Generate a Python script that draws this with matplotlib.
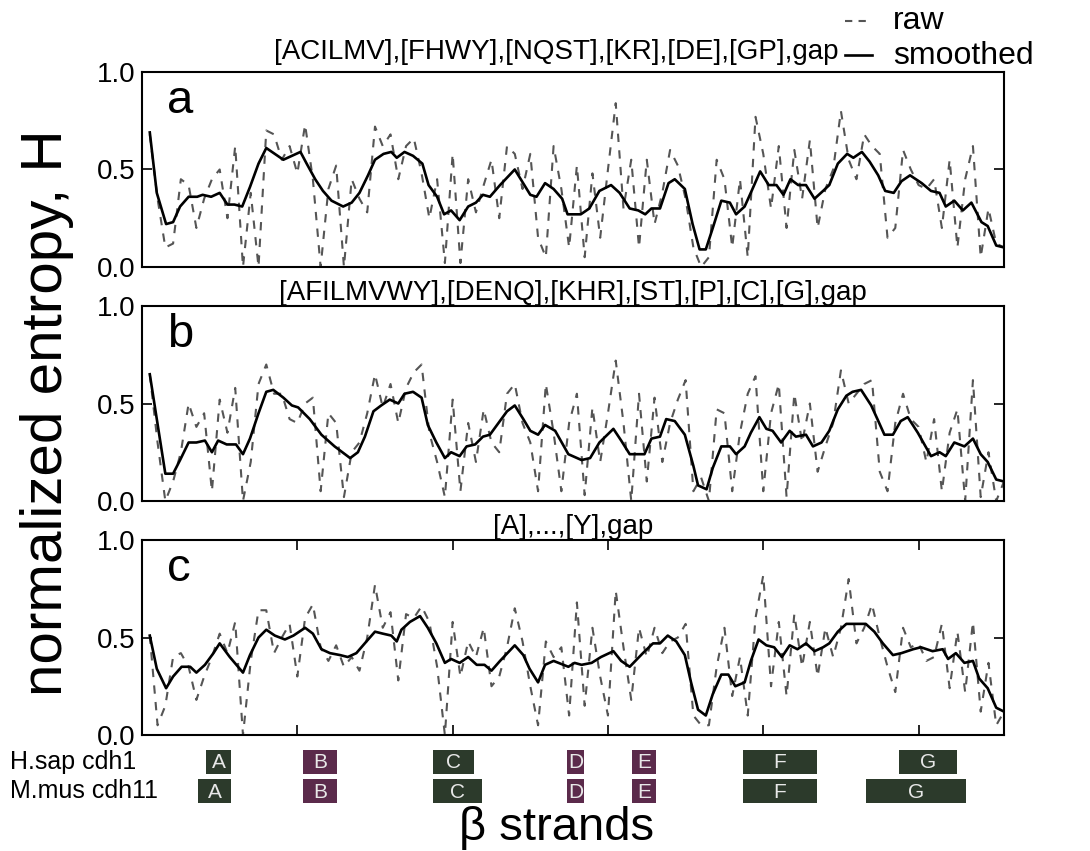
import numpy as np
import matplotlib
matplotlib.use('Agg')
import matplotlib.pyplot as plt
import matplotlib.transforms as mtransforms
from matplotlib.patches import Rectangle
from matplotlib.lines import Line2D

# ---------------- data ----------------
positions = list(range(1, 112))

titles = ["[ACILMV],[FHWY],[NQST],[KR],[DE],[GP],gap",
          "[AFILMVWY],[DENQ],[KHR],[ST],[P],[C],[G],gap",
          "[A],...,[Y],gap"]
panel_letters = ["a", "b", "c"]
legend_labels = ["raw", "smoothed"]

raw_a = [0.68, 0.35, 0.10, 0.12, 0.45, 0.42, 0.20, 0.35, 0.45, 0.50,
         0.25, 0.62, 0.00, 0.38, 0.00, 0.70, 0.68, 0.55, 0.62, 0.48,
         0.73, 0.45, 0.00, 0.40, 0.52, 0.00, 0.45, 0.35, 0.28, 0.72,
         0.62, 0.68, 0.45, 0.62, 0.66, 0.48, 0.25, 0.45, 0.02, 0.58,
         0.02, 0.45, 0.28, 0.42, 0.55, 0.25, 0.62, 0.58, 0.40, 0.58,
         0.15, 0.05, 0.62, 0.40, 0.10, 0.52, 0.05, 0.48, 0.15, 0.50,
         0.84, 0.30, 0.55, 0.10, 0.55, 0.22, 0.38, 0.60, 0.52, 0.35,
         0.10, 0.00, 0.05, 0.55, 0.45, 0.10, 0.45, 0.05, 0.77, 0.58,
         0.30, 0.62, 0.20, 0.60, 0.35, 0.65, 0.20, 0.40, 0.50, 0.80,
         0.55, 0.45, 0.68, 0.62, 0.58, 0.15, 0.20, 0.60, 0.50, 0.42,
         0.40, 0.45, 0.20, 0.55, 0.10, 0.45, 0.62, 0.05, 0.30, 0.12,
         0.10]

raw_b = [0.65, 0.30, 0.00, 0.10, 0.25, 0.50, 0.38, 0.45, 0.05, 0.52,
         0.35, 0.58, 0.00, 0.20, 0.60, 0.70, 0.55, 0.55, 0.42, 0.40,
         0.50, 0.53, 0.05, 0.45, 0.40, 0.02, 0.25, 0.30, 0.45, 0.65,
         0.48, 0.60, 0.40, 0.58, 0.66, 0.70, 0.35, 0.20, 0.02, 0.52,
         0.05, 0.40, 0.20, 0.47, 0.30, 0.25, 0.55, 0.60, 0.40, 0.30,
         0.05, 0.60, 0.35, 0.05, 0.40, 0.55, 0.03, 0.48, 0.20, 0.45,
         0.72, 0.40, 0.00, 0.55, 0.10, 0.53, 0.20, 0.40, 0.52, 0.62,
         0.05, 0.12, 0.00, 0.47, 0.45, 0.05, 0.35, 0.55, 0.64, 0.05,
         0.45, 0.60, 0.02, 0.55, 0.30, 0.50, 0.15, 0.28, 0.40, 0.67,
         0.50, 0.55, 0.60, 0.62, 0.15, 0.05, 0.40, 0.55, 0.42, 0.38,
         0.20, 0.42, 0.05, 0.35, 0.47, 0.00, 0.62, 0.02, 0.25, 0.00,
         0.10]

raw_c = [0.51, 0.05, 0.15, 0.40, 0.42, 0.35, 0.18, 0.30, 0.40, 0.52,
         0.42, 0.58, 0.00, 0.38, 0.64, 0.64, 0.42, 0.50, 0.57, 0.30,
         0.60, 0.67, 0.45, 0.38, 0.46, 0.35, 0.40, 0.33, 0.50, 0.77,
         0.55, 0.63, 0.28, 0.62, 0.60, 0.66, 0.58, 0.35, 0.00, 0.58,
         0.30, 0.48, 0.40, 0.55, 0.25, 0.30, 0.45, 0.65, 0.48, 0.25,
         0.05, 0.48, 0.40, 0.45, 0.10, 0.68, 0.15, 0.55, 0.30, 0.10,
         0.74, 0.45, 0.18, 0.55, 0.40, 0.55, 0.42, 0.48, 0.50, 0.57,
         0.10, 0.05, 0.05, 0.35, 0.55, 0.20, 0.40, 0.10, 0.60, 0.82,
         0.25, 0.58, 0.20, 0.62, 0.35, 0.58, 0.30, 0.55, 0.40, 0.55,
         0.80, 0.47, 0.55, 0.67, 0.50, 0.35, 0.22, 0.55, 0.45, 0.47,
         0.38, 0.40, 0.57, 0.24, 0.53, 0.22, 0.58, 0.12, 0.37, 0.05,
         0.12]

smooth_a_x = [1, 1.9, 3.1, 4.0, 4.9, 6.0, 7.1, 7.8, 8.9, 10.0,
              11.0, 11.9, 12.9, 13.9, 15.0, 16.0, 17.1, 18.2, 19.3, 20.4,
              21.2, 22.3, 23.3, 24.4, 25.9, 27.0, 28.0, 29.1, 30.0, 31.1,
              32.1, 32.8, 33.8, 34.9, 36.1, 36.9, 38.0, 38.9, 39.8, 40.9,
              42.0, 43.0, 43.9, 44.8, 46.1, 48.0, 50.0, 50.8, 51.9, 53.0,
              54.1, 54.8, 56.5, 57.6, 58.9, 60.4, 61.5, 62.8, 63.9, 64.8,
              65.6, 66.7, 67.8, 68.6, 69.9, 70.9, 71.8, 72.6, 73.5, 74.6,
              75.7, 76.5, 77.6, 78.5, 79.6, 80.7, 81.7, 82.6, 83.5, 84.5,
              85.5, 86.6, 87.7, 88.5, 89.6, 90.8, 91.6, 92.7, 93.7, 94.8,
              95.7, 96.8, 97.8, 98.9, 100.4, 101.6, 102.7, 103.5, 104.6, 105.7,
              106.8, 108.1, 108.9, 110.0, 111.0]
smooth_a_y = [0.69, 0.38, 0.22, 0.23, 0.31, 0.36, 0.36, 0.37, 0.36, 0.38,
              0.32, 0.32, 0.31, 0.41, 0.53, 0.61, 0.58, 0.55, 0.57, 0.59,
              0.53, 0.45, 0.39, 0.34, 0.31, 0.33, 0.38, 0.47, 0.55, 0.58,
              0.59, 0.56, 0.59, 0.57, 0.53, 0.42, 0.36, 0.27, 0.29, 0.24,
              0.31, 0.33, 0.37, 0.36, 0.42, 0.50, 0.37, 0.36, 0.43, 0.40,
              0.35, 0.27, 0.27, 0.30, 0.39, 0.42, 0.38, 0.30, 0.29, 0.27,
              0.30, 0.30, 0.43, 0.45, 0.40, 0.22, 0.09, 0.09, 0.20, 0.34,
              0.33, 0.27, 0.31, 0.39, 0.49, 0.42, 0.42, 0.37, 0.45, 0.42,
              0.42, 0.35, 0.39, 0.42, 0.53, 0.58, 0.56, 0.59, 0.54, 0.47,
              0.39, 0.38, 0.44, 0.47, 0.43, 0.39, 0.38, 0.31, 0.34, 0.29,
              0.33, 0.23, 0.21, 0.11, 0.10]

smooth_b_x = [1, 3.0, 4.0, 4.9, 6.0, 7.0, 8.1, 9.0, 9.8, 10.9,
              12.1, 13.0, 13.9, 15.0, 16.0, 16.9, 18.2, 19.3, 20.1, 21.6,
              23.1, 24.8, 26.8, 27.8, 28.7, 29.8, 30.8, 31.9, 33.0, 33.8,
              34.9, 36.0, 36.8, 37.9, 39.0, 39.8, 40.9, 41.8, 42.9, 43.9,
              44.8, 45.9, 47.0, 48.0, 49.1, 50.0, 51.0, 51.9, 53.2, 54.9,
              56.6, 57.7, 58.9, 60.7, 61.7, 62.8, 64.7, 65.6, 66.7, 67.5,
              68.6, 69.9, 71.0, 71.6, 72.7, 73.5, 74.6, 75.7, 76.5, 77.6,
              78.4, 79.5, 80.4, 81.2, 82.3, 83.4, 84.2, 85.5, 86.4, 87.5,
              88.5, 89.6, 90.7, 91.5, 92.6, 93.9, 94.7, 95.6, 96.7, 97.7,
              98.6, 99.9, 101.6, 102.7, 103.5, 104.6, 105.9, 107.0, 108.0, 108.9,
              110.0, 111.0]
smooth_b_y = [0.65, 0.14, 0.14, 0.21, 0.30, 0.30, 0.31, 0.25, 0.31, 0.29,
              0.29, 0.24, 0.32, 0.45, 0.56, 0.57, 0.53, 0.49, 0.48, 0.42,
              0.34, 0.28, 0.22, 0.25, 0.33, 0.46, 0.49, 0.52, 0.50, 0.55,
              0.56, 0.53, 0.39, 0.30, 0.22, 0.25, 0.23, 0.28, 0.29, 0.33,
              0.34, 0.40, 0.46, 0.49, 0.42, 0.36, 0.34, 0.39, 0.36, 0.24,
              0.21, 0.22, 0.30, 0.37, 0.31, 0.24, 0.24, 0.32, 0.33, 0.42,
              0.41, 0.34, 0.18, 0.08, 0.06, 0.17, 0.28, 0.28, 0.24, 0.28,
              0.35, 0.43, 0.37, 0.36, 0.30, 0.36, 0.33, 0.34, 0.28, 0.30,
              0.36, 0.47, 0.54, 0.56, 0.57, 0.49, 0.42, 0.34, 0.34, 0.41,
              0.43, 0.35, 0.23, 0.25, 0.23, 0.30, 0.28, 0.32, 0.24, 0.20,
              0.11, 0.10]

smooth_c_x = [1, 1.9, 3.1, 4.0, 5.1, 6.2, 7.0, 8.1, 9.2, 10.0,
              11.3, 13.0, 13.9, 15.0, 16.0, 17.1, 18.4, 19.5, 21.0, 22.0,
              23.1, 24.2, 25.5, 26.5, 27.6, 28.9, 30.0, 31.0, 32.1, 32.8,
              33.4, 34.5, 35.8, 36.8, 37.9, 39.0, 39.8, 40.9, 42.0, 43.1,
              44.1, 45.0, 46.1, 48.0, 49.1, 49.9, 51.0, 51.9, 53.0, 54.9,
              55.7, 56.6, 57.9, 59.1, 60.7, 61.7, 62.8, 64.5, 65.8, 66.7,
              67.7, 68.8, 69.9, 70.7, 71.6, 72.6, 73.5, 74.6, 75.5, 76.4,
              77.6, 78.4, 79.4, 80.4, 81.4, 82.4, 83.4, 84.4, 85.5, 86.6,
              87.7, 88.5, 89.6, 90.7, 91.7, 93.2, 94.3, 95.4, 96.7, 97.8,
              99.3, 100.3, 101.8, 103.1, 103.8, 104.8, 105.9, 107.0, 107.8, 108.9,
              110.0, 111.0]
smooth_c_y = [0.51, 0.34, 0.24, 0.30, 0.35, 0.35, 0.32, 0.36, 0.42, 0.47,
              0.40, 0.32, 0.41, 0.50, 0.54, 0.51, 0.49, 0.51, 0.55, 0.52,
              0.44, 0.42, 0.41, 0.40, 0.42, 0.48, 0.53, 0.52, 0.51, 0.48,
              0.54, 0.58, 0.61, 0.55, 0.47, 0.37, 0.39, 0.37, 0.40, 0.36,
              0.36, 0.33, 0.38, 0.46, 0.41, 0.34, 0.27, 0.36, 0.38, 0.35,
              0.37, 0.36, 0.37, 0.40, 0.43, 0.38, 0.35, 0.42, 0.47, 0.47,
              0.51, 0.48, 0.41, 0.27, 0.13, 0.10, 0.21, 0.31, 0.31, 0.25,
              0.27, 0.38, 0.49, 0.46, 0.45, 0.40, 0.46, 0.44, 0.47, 0.43,
              0.45, 0.47, 0.53, 0.57, 0.57, 0.57, 0.53, 0.47, 0.41, 0.42,
              0.44, 0.45, 0.43, 0.44, 0.39, 0.42, 0.37, 0.38, 0.29, 0.24,
              0.14, 0.12]

yticks = [0.0, 0.5, 1.0]
ytick_labels = ["0.0", "0.5", "1.0"]
xticks = [20, 40, 60, 80, 100]

strand_names = ["A", "B", "C", "D", "E", "F", "G"]
strand_kind = ["g", "p", "g", "p", "p", "g", "g"]
hsap_start = [8.2, 20.7, 37.5, 54.7, 63.1, 77.4, 97.5]
hsap_end = [11.5, 25.1, 42.8, 56.9, 66.2, 86.9, 104.9]
mmus_start = [7.2, 20.7, 37.5, 54.7, 63.1, 77.4, 93.2]
mmus_end = [11.5, 25.1, 43.8, 56.9, 66.2, 86.9, 106.1]
species = ["H.sap cdh1", "M.mus cdh11"]

assert len(smooth_a_x) == len(smooth_a_y)
assert len(smooth_b_x) == len(smooth_b_y)
assert len(smooth_c_x) == len(smooth_c_y)

raws = [raw_a, raw_b, raw_c]
smooth_x = [smooth_a_x, smooth_b_x, smooth_c_x]
smooth_y = [smooth_a_y, smooth_b_y, smooth_c_y]

# ---------------- style ----------------
plt.rcParams['font.family'] = ['Liberation Sans', 'DejaVu Sans']
GREEN = '#2c3a2b'
PURPLE = '#5b2a4b'
RAWC = '#555555'

fig = plt.figure(figsize=(10.9, 8.51), dpi=100)
FW, FH = 1090.0, 851.0
L, W, H = 0.1303, 0.7908, 0.2291
bottoms = [0.6863, 0.4113, 0.1363]

for i in range(3):
    ax = fig.add_axes([L, bottoms[i], W, H])
    ax.plot(positions, raws[i], color=RAWC, lw=1.5, dashes=(4, 4))
    ax.plot(smooth_x[i], smooth_y[i], color='black', lw=1.9)
    ax.set_xlim(0, 111)
    ax.set_ylim(0, 1)
    ax.set_yticks(yticks)
    ax.set_yticklabels(ytick_labels)
    ax.tick_params(axis='y', direction='in', left=True, right=True,
                   length=7, width=1.2, labelsize=20, pad=5)
    if i < 2:
        ax.set_xticks([])
    else:
        ax.set_xticks(xticks)
        ax.tick_params(axis='x', direction='in', top=True, bottom=True,
                       labelbottom=False, length=7, width=1.2)
    for sp in ax.spines.values():
        sp.set_linewidth(1.5)
    ax.text(0.029, 0.79, panel_letters[i], transform=ax.transAxes,
            fontsize=34, va='baseline', ha='left')
    if i == 0:
        ax.text(0.808, 1.067, titles[i], transform=ax.transAxes,
                ha='right', va='baseline', fontsize=20)
    else:
        ax.set_title(titles[i], fontsize=20, pad=4)

# legend (drawn in figure coordinates, tightly stacked as in the reference)
fig.add_artist(Line2D([845 / FW, 869 / FW], [1 - 21 / FH] * 2,
                      transform=fig.transFigure, color=RAWC, lw=1.5,
                      dashes=(3.5, 3)))
fig.add_artist(Line2D([845 / FW, 872 / FW], [1 - 55 / FH] * 2,
                      transform=fig.transFigure, color='black', lw=1.9))
fig.text(893 / FW, 1 - 29 / FH, legend_labels[0], fontsize=23,
         ha='left', va='baseline')
fig.text(893 / FW, 1 - 64 / FH, legend_labels[1], fontsize=23,
         ha='left', va='baseline')

# strands
axs = fig.add_axes([L, 0.0529, W, 0.0717])
axs.set_xlim(0, 111)
axs.set_ylim(1.51, -0.59)
axs.axis('off')
for row, (starts, ends) in enumerate([(hsap_start, hsap_end), (mmus_start, mmus_end)]):
    for name, kind, s, e in zip(strand_names, strand_kind, starts, ends):
        col = GREEN if kind == 'g' else PURPLE
        axs.add_patch(Rectangle((s, row - 0.42), e - s, 0.84,
                                facecolor=col, edgecolor='none'))
        axs.text((s + e) / 2, row + 0.03, name, color='#e8e8e8',
                 fontsize=15, ha='center', va='center')
trans = mtransforms.blended_transform_factory(fig.transFigure, axs.transData)
for row, sp in enumerate(species):
    axs.text(0.009, row, sp, transform=trans, fontsize=18,
             ha='left', va='center')

fig.text(0.043, 0.515, "normalized entropy, H", rotation=90,
         fontsize=42, ha='center', va='center')
fig.text(0.511, 0.027, "β strands", fontsize=34, ha='center', va='center')

fig.savefig("out.png", dpi=100)
